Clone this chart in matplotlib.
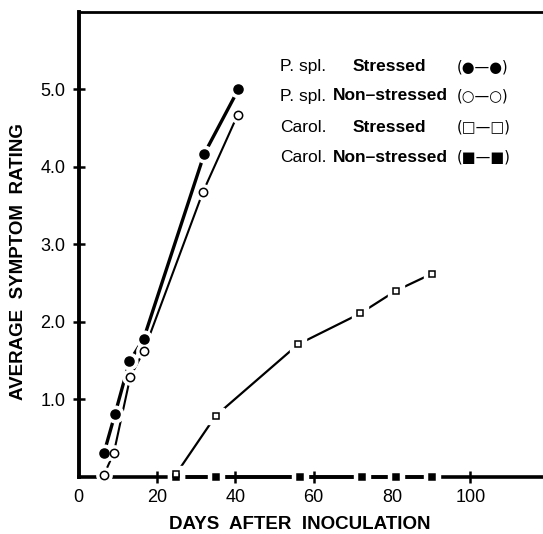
import matplotlib
matplotlib.use("Agg")
import matplotlib.pyplot as plt

# ---- data ----
pspl_s_x = [6.5, 9.3, 13.0, 16.6, 32.1, 40.8]
pspl_s_y = [0.31, 0.81, 1.49, 1.78, 4.17, 5.0]
pspl_n_x = [6.4, 9.0, 13.2, 16.7, 31.7, 40.6]
pspl_n_y = [0.02, 0.31, 1.29, 1.63, 3.67, 4.67]
carol_s_x = [24.9, 35.0, 56.0, 71.9, 80.9, 90.1]
carol_s_y = [0.04, 0.79, 1.71, 2.11, 2.40, 2.62]
carol_n_x = [24.9, 35.0, 56.4, 72.2, 81.1, 90.1]
carol_n_y = [0.0, 0.0, 0.0, 0.0, 0.0, 0.0]

x_ticks = [0, 20, 40, 60, 80, 100]
y_ticks = [1.0, 2.0, 3.0, 4.0, 5.0]
y_labels = ["1.0", "2.0", "3.0", "4.0", "5.0"]

legend_names = ["P. spl.", "P. spl.", "Carol.", "Carol."]
legend_kinds = ["Stressed", "Non\u2013stressed", "Stressed", "Non\u2013stressed"]
legend_syms = ["(\u25cf\u2014\u25cf)", "(\u25cb\u2014\u25cb)", "(\u25a1\u2014\u25a1)", "(\u25a0\u2014\u25a0)"]

plt.rcParams['font.family'] = ['Liberation Sans', 'DejaVu Sans']

fig = plt.figure(figsize=(5.43, 5.34), dpi=100)
ax = fig.add_axes([0.1446, 0.1067, 0.8554, 0.8714])
ax.set_xlim(0, 118.5)
ax.set_ylim(0, 6.0)

def series(x, y, marker, mfc, ms, lw, halo):
    ax.plot(x, y, '-', color='black', lw=lw, zorder=2, clip_on=False,
            solid_capstyle='butt')
    ax.plot(x, y, linestyle='none', marker=marker, ms=halo, mfc='white',
            mec='white', zorder=3, clip_on=False)
    ax.plot(x, y, linestyle='none', marker=marker, ms=ms, mfc=mfc,
            mec='black', mew=1.1, zorder=4, clip_on=False)

series(carol_n_x, carol_n_y, 's', 'black', 5.0, 2.6, 12)
series(carol_s_x, carol_s_y, 's', 'white', 5.0, 1.6, 12)
series(pspl_s_x, pspl_s_y, 'o', 'black', 6.5, 2.4, 12)
series(pspl_n_x, pspl_n_y, 'o', 'white', 6.0, 1.5, 11)

# spines
ax.spines['right'].set_visible(False)
ax.spines['left'].set_linewidth(2.8)
ax.spines['bottom'].set_linewidth(2.6)
ax.spines['top'].set_linewidth(2.0)
ax.spines['bottom'].set_zorder(1)

ax.set_xticks(x_ticks)
ax.set_xticklabels([str(v) for v in x_ticks])
ax.set_yticks(y_ticks)
ax.set_yticklabels(y_labels)
ax.tick_params(axis='both', direction='inout', length=9, width=1.8,
               labelsize=13, colors='black')
ax.tick_params(axis='y', pad=5)
ax.tick_params(axis='x', pad=4)
ax.xaxis.get_major_ticks()[0].tick1line.set_visible(False)
ax.xaxis.get_major_ticks()[4].tick1line.set_visible(False)

ax.set_xlabel("DAYS  AFTER  INOCULATION", fontsize=13.5, fontweight='bold',
              va='center')
ax.xaxis.set_label_coords(0.477, -0.103)
ax.set_ylabel("AVERAGE  SYMPTOM  RATING", fontsize=13.5, fontweight='bold',
              va='center')
ax.yaxis.set_label_coords(-0.130, 0.462)

# legend as text
row_y = [66.7, 96.0, 127.3, 157.3]
for i in range(4):
    yf = 1 - row_y[i] / 534
    fig.text(280 / 543, yf, legend_names[i], fontsize=12.5, va='center', ha='left')
    kx = 352.7 if i in (0, 2) else 333.3
    fig.text(kx / 543, yf, legend_kinds[i], fontsize=12.5, fontweight='bold',
             va='center', ha='left')
    fig.text(456.7 / 543, yf, legend_syms[i], fontsize=10.5, va='center', ha='left',
             family=['DejaVu Sans'])

fig.savefig("out.png", dpi=100)
